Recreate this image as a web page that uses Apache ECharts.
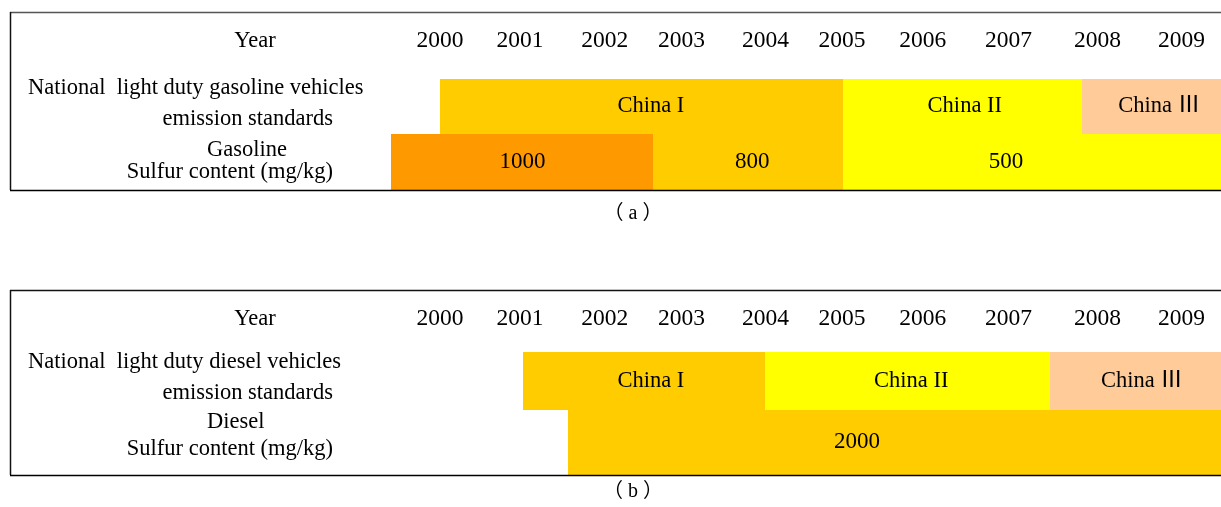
<!DOCTYPE html>
<html lang="en">
<head>
    <meta charset="UTF-8">
    <title>Sulfur content and emission standards</title>
    <style>
        html, body { margin: 0; padding: 0; background: #fff; }
        .div { width: 1221px; height: 507px; }
    </style>
</head>
<body>
    <div class="div"></div>
    <script src="https://cdn.jsdelivr.net/npm/echarts@6/dist/echarts.min.js"></script>
    <script>
        // year header (labels sit on the table columns, not evenly spaced)
        const years = ['2000', '2001', '2002', '2003', '2004', '2005', '2006', '2007', '2008', '2009']
        const yearAt = [2000, 2000.97, 2002.0, 2002.93, 2003.95, 2004.88, 2005.86, 2006.9, 2007.98, 2009.0]

        // (a) gasoline
        const gasStd = ['China I', 'China II', 'China Ⅲ']
        const gasStdStart = [2000, 2004.89, 2007.79]
        const gasStdEnd = [2004.89, 2007.79, 2009.48]
        const gasStdLabelAt = [2002.56, 2006.37, 2008.73]
        const gasSulfur = ['1000', '800', '500']
        const gasSulfurStart = [1999.41, 2002.59, 2004.89]
        const gasSulfurEnd = [2002.59, 2004.89, 2009.48]
        const gasSulfurLabelAt = [2001.0, 2003.79, 2006.87]

        // (b) diesel
        const dieselStd = ['China I', 'China II', 'China Ⅲ']
        const dieselStdStart = [2001.01, 2003.94, 2007.4]
        const dieselStdEnd = [2003.94, 2007.4, 2009.48]
        const dieselStdLabelAt = [2002.56, 2005.72, 2008.52]
        const dieselSulfur = ['2000']
        const dieselSulfurStart = [2001.55]
        const dieselSulfurEnd = [2009.48]
        const dieselSulfurLabelAt = [2005.06]

        const fillOf = {
            'China I': '#FFCC00', 'China II': '#FFFF00', 'China Ⅲ': '#FFCC99',
            '1000': '#FF9900', '800': '#FFCC00', '500': '#FFFF00', '2000': '#FFCC00'
        }
        const FONT = "'Liberation Serif', 'Times New Roman', 'Noto Sans CJK SC', serif"

        // panel frames (pixels): open on the right side
        const LEFT = 10, RIGHT = 1221
        const panels = [{ top: 12, bottom: 190, topColor: '#555' }, { top: 290, bottom: 475, topColor: '#111' }]

        const echart = echarts.init(document.querySelector('.div'))

        function blockSeries (idx, names, start, end, labelAt, y0, y1) {
            return {
                type: 'custom',
                xAxisIndex: idx,
                yAxisIndex: idx,
                silent: true,
                data: names.map((n, i) => [start[i], end[i], labelAt[i]]),
                renderItem: (params, api) => {
                    const i = params.dataIndex
                    const a = api.coord([api.value(0), y1]).map(Math.round)
                    const b = api.coord([api.value(1), y0]).map(Math.round)
                    const c = api.coord([api.value(2), (y0 + y1) / 2])
                    const numeric = /^\d+$/.test(names[i])
                    return {
                        type: 'group',
                        children: [
                            {
                                type: 'rect',
                                shape: { x: a[0], y: a[1], width: b[0] - a[0], height: b[1] - a[1] },
                                style: { fill: fillOf[names[i]] }
                            },
                            {
                                type: 'text',
                                x: c[0], y: c[1],
                                style: { text: names[i], fill: '#000', fontSize: numeric ? 23 : 22.5, fontFamily: FONT, align: 'center', verticalAlign: 'middle' }
                            }
                        ]
                    }
                }
            }
        }

        function yearSeries (idx, y) {
            return {
                type: 'custom',
                xAxisIndex: idx,
                yAxisIndex: idx,
                silent: true,
                data: yearAt.map(v => [v, y]),
                renderItem: (params, api) => {
                    const p = api.coord([api.value(0), api.value(1)])
                    return {
                        type: 'text',
                        x: p[0], y: p[1],
                        style: { text: years[params.dataIndex], fill: '#000', fontSize: 23.5, fontFamily: FONT, align: 'center', verticalAlign: 'middle' }
                    }
                }
            }
        }

        function txt (text, x, y, align, size) {
            return {
                type: 'text', x, y, z: 20,
                style: { text, fill: '#000', fontSize: size || 22.5, fontFamily: FONT, align: align || 'center', verticalAlign: 'middle' }
            }
        }

        function frame (p) {
            return [
                { type: 'line', z: 100, shape: { x1: LEFT, y1: p.top + 0.5, x2: RIGHT, y2: p.top + 0.5 }, style: { stroke: p.topColor, lineWidth: 1.5 } },
                { type: 'line', z: 100, shape: { x1: LEFT + 0.5, y1: p.top, x2: LEFT + 0.5, y2: p.bottom }, style: { stroke: '#111', lineWidth: 1.5 } },
                { type: 'line', z: 100, shape: { x1: LEFT, y1: p.bottom + 0.5, x2: RIGHT, y2: p.bottom + 0.5 }, style: { stroke: '#000', lineWidth: 1.5 } }
            ]
        }

        const xAx = { type: 'value', min: 1994.78, max: 2009.48, show: false }

        echart.setOption({
            animation: false,
            grid: [
                { left: LEFT, right: 0, top: panels[0].top, height: panels[0].bottom - panels[0].top },
                { left: LEFT, right: 0, top: panels[1].top, height: panels[1].bottom - panels[1].top }
            ],
            xAxis: [Object.assign({ gridIndex: 0 }, xAx), Object.assign({ gridIndex: 1 }, xAx)],
            yAxis: [
                { type: 'value', gridIndex: 0, min: 0, max: 3.2, show: false },
                { type: 'value', gridIndex: 1, min: 0, max: 3, show: false }
            ],
            graphic: [
                ...frame(panels[0]),
                ...frame(panels[1]),
                txt('Year', 255, 41),
                txt('National  light duty gasoline vehicles', 28, 88, 'left'),
                txt('emission standards', 333, 119, 'right'),
                txt('Gasoline', 207, 150, 'left'),
                txt('Sulfur content (mg/kg)', 333, 172, 'right'),
                txt('（ a ）', 633, 214, 'center', 20),
                txt('Year', 255, 319),
                txt('National  light duty diesel vehicles', 28, 362, 'left'),
                txt('emission standards', 333, 393, 'right'),
                txt('Diesel', 207, 422, 'left'),
                txt('Sulfur content (mg/kg)', 333, 449, 'right'),
                txt('（ b ）', 633, 492, 'center', 20)
            ],
            series: [
                blockSeries(0, gasSulfur, gasSulfurStart, gasSulfurEnd, gasSulfurLabelAt, 0, 1),
                blockSeries(0, gasStd, gasStdStart, gasStdEnd, gasStdLabelAt, 1, 2),
                yearSeries(0, 2.68),
                blockSeries(1, dieselSulfur, dieselSulfurStart, dieselSulfurEnd, dieselSulfurLabelAt, 0, 1.06),
                blockSeries(1, dieselStd, dieselStdStart, dieselStdEnd, dieselStdLabelAt, 1.06, 2),
                yearSeries(1, 2.53)
            ]
        })
    </script>
</body>
</html>
